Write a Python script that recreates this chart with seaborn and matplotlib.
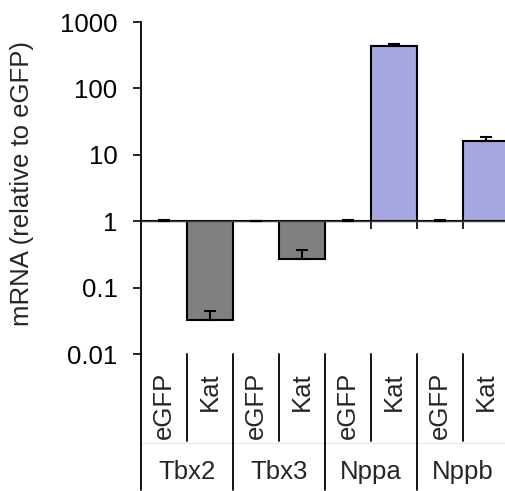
import matplotlib
matplotlib.use("Agg")
import matplotlib.pyplot as plt
import matplotlib.transforms as mtransforms
import seaborn as sns
import pandas as pd

# values (relative to eGFP, log scale)
genes = ["Tbx2", "Tbx3", "Nppa", "Nppb"]
conditions = ["eGFP", "Kat"]
egfp_vals = [1.0, 1.0, 1.0, 1.0]
kat_vals = [0.033, 0.265, 436, 16.4]
egfp_err = [0.045, 0.01, 0.05, 0.05]
kat_err = [0.012, 0.10, 32, 2.2]
gene_colors = {"Tbx2": "#808080", "Tbx3": "#808080",
               "Nppa": "#A8A8E0", "Nppb": "#A8A8E0"}

rows = []
for g, ev, kv, ee, ke in zip(genes, egfp_vals, kat_vals, egfp_err, kat_err):
    rows.append({"slot": g + " eGFP", "gene": g, "cond": "eGFP", "value": ev, "err": ee})
    rows.append({"slot": g + " Kat", "gene": g, "cond": "Kat", "value": kv, "err": ke})
df = pd.DataFrame(rows)
# bars hang from 1
df["height"] = df["value"] - 1

sns.set_style("ticks")
plt.rcParams["font.family"] = ["Liberation Sans", "DejaVu Sans"]
fs = 18.5

fig = plt.figure(figsize=(5.05, 4.91), dpi=100)
ax = fig.add_axes([141 / 505, 1 - 354 / 491, 368 / 505, 332 / 491])

sns.barplot(data=df, x="slot", y="height", hue="gene", palette=gene_colors,
            order=list(df["slot"]), dodge=False, width=1.0, bottom=1,
            saturation=1, edgecolor="black", linewidth=1.5, errorbar=None,
            legend=False, ax=ax)

pos = list(range(len(df)))
ax.errorbar(pos, df["value"], yerr=[[0] * len(df), df["err"]], fmt="none",
            ecolor="black", elinewidth=1.5, capsize=4.3, capthick=1.5,
            zorder=3)

ax.set_yscale("log")
ax.set_ylim(0.01, 1000)
ax.set_xlim(-0.5, len(df) - 0.5)
ax.set_yticks([0.01, 0.1, 1, 10, 100, 1000])
ax.set_yticklabels(["0.01", "0.1", "1", "10", "100", "1000"], fontsize=fs)
ax.yaxis.set_minor_locator(matplotlib.ticker.NullLocator())
ax.tick_params(axis="y", direction="out", length=6, width=1.2, pad=11,
               colors="black")

# x axis at y = 1 with ticks on slot boundaries
ax.spines["top"].set_visible(False)
ax.spines["right"].set_visible(False)
ax.spines["bottom"].set_position(("data", 1))
ax.spines["bottom"].set_color("#404040")
ax.spines["bottom"].set_linewidth(1.0)
ax.spines["left"].set_color("black")
ax.spines["left"].set_linewidth(1.3)
ax.set_xticks([i + 0.5 for i in range(len(df) - 1)])
ax.set_xticklabels([])
ax.tick_params(axis="x", direction="out", length=6, width=1.2, colors="black")
ax.set_xlabel("")

ax.set_ylabel("mRNA (relative to eGFP)", fontsize=fs)
ax.yaxis.set_label_coords(-0.29, 0.514)

# category table under the axis
trans = mtransforms.blended_transform_factory(ax.transData, ax.transAxes)
for i, c in enumerate(df["cond"]):
    ax.text(i, -0.054, c, rotation=90, ha="center", va="top",
            fontsize=fs, transform=trans)
for k, g in enumerate(genes):
    ax.text(2 * k + 0.5, -0.355, g, ha="center", va="center",
            fontsize=fs, transform=trans)
    ax.plot([2 * k + 0.5, 2 * k + 0.5], [0, -0.262], color="black", lw=1.3,
            transform=trans, clip_on=False)
for k in range(len(genes) + 1):
    xb = 2 * k - 0.5
    ax.plot([xb, xb], [0, -0.41], color="black", lw=1.3,
            transform=trans, clip_on=False)
ax.plot([-0.5, len(df) - 0.5], [-0.268, -0.268], color="#e8e8e8", lw=0.8,
        transform=trans, clip_on=False, zorder=0)

fig.savefig("out.png", dpi=100)
